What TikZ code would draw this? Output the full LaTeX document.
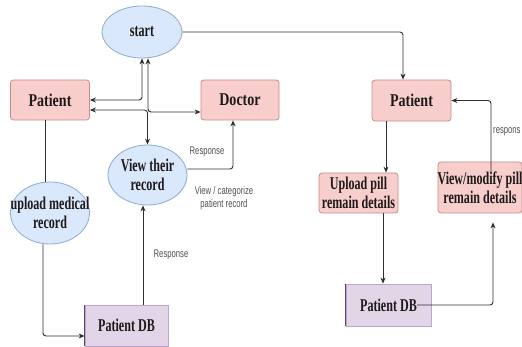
\documentclass[tikz,border=0pt]{standalone}
\usepackage{fontspec}
\setmainfont{Liberation Serif}
\newfontfamily\bxn{Liberation Serif}[FakeStretch=0.67]
\newfontfamily\bxw{Liberation Serif}[FakeStretch=0.78]
\newfontfamily\smf{Liberation Sans}[FakeStretch=0.70]
\usetikzlibrary{shapes.geometric,arrows.meta}
\definecolor{pinkF}{HTML}{F8CECC}
\definecolor{pinkD}{HTML}{C98B86}
\definecolor{blueF}{HTML}{DAE8FC}
\definecolor{blueD}{HTML}{8EA9D2}
\definecolor{purF}{HTML}{E1D5E7}
\definecolor{purD}{HTML}{B9A6C9}
\definecolor{purL}{HTML}{5C4A6E}
\definecolor{lineC}{HTML}{2E2E2E}
\definecolor{txtC}{HTML}{1E1A1A}
\definecolor{lblC}{HTML}{505050}
\tikzset{
  pbox/.style={draw=pinkD, fill=pinkF, rounded corners=3pt, line width=0.8pt, inner sep=0pt},
  ell/.style={ellipse, draw=blueD, fill=blueF, line width=0.8pt, inner sep=0pt},
  dbox/.style={draw=purD, fill=purF, line width=0.8pt, inner sep=0pt},
  ttw/.style={font=\bxw\bfseries\fontsize{18}{19}\selectfont, text=txtC, align=center, inner sep=0pt},
  ttn/.style={font=\bxn\bfseries\fontsize{18}{19}\selectfont, text=txtC, align=center, inner sep=0pt},
  lbl/.style={font=\smf\fontsize{11}{13}\selectfont, text=lblC, align=center, inner sep=0pt},
  conn/.style={draw=lineC, line width=0.9pt, rounded corners=3pt},
  arr/.style={conn, -{Stealth[length=6pt,width=5pt]}},
  darr/.style={conn, {Stealth[length=6pt,width=5pt]}-{Stealth[length=6pt,width=5pt]}}
}
\begin{document}
\begin{tikzpicture}[x=1pt,y=-1pt]
\useasboundingbox (0,0) rectangle (522,347);
\fill[white] (0,0) rectangle (522,347);
% left side nodes
\node[ell, minimum width=80pt, minimum height=52pt] (start) at (142,32) {};
\node[ttn] (startT) at (start) {start};
\node[pbox, minimum width=79pt, minimum height=40pt] (P1) at (50,100) {};
\node[ttw] (P1T) at (P1) {Patient};
\node[pbox, minimum width=78pt, minimum height=40pt] (Doc) at (240,100) {};
\node[ttw] (DocT) at (Doc) {Doctor};
\node[ell, minimum width=79pt, minimum height=60pt] (view) at (147.5,175) {};
\node[ttn] (viewT) at (view) {View their\\record};
\node[ell, minimum width=79pt, minimum height=62pt] (upl) at (50,213) {};
\node[ttn] (uplT) at (upl) {upload medical\\record};
\node[dbox, minimum width=83pt, minimum height=41pt] (DB1) at (126.5,325.5) {};
\node[ttn] (DB1T) at (DB1) {Patient DB};
\draw[purL, line width=1.6pt] (DB1.north west) -- (DB1.south west);
% right side nodes
\node[pbox, minimum width=79pt, minimum height=41pt] (P2) at (411.5,100.5) {};
\node[ttw] (P2T) at (P2) {Patient};
\node[pbox, minimum width=79pt, minimum height=40pt] (UP) at (358.5,193) {};
\node[ttn] (UPT) at (UP) {Upload pill\\remain details};
\node[pbox, minimum width=84pt, minimum height=51pt] (VM) at (480,187.5) {};
\node[ttn] (VMT) at (VM) {View/modify pill\\remain details};
\node[dbox, minimum width=85pt, minimum height=42pt] (DB2) at (388.5,305) {};
\node[ttn] (DB2T) at (DB2) {Patient DB};
\draw[purL, line width=1.6pt] (DB2.north west) -- (DB2.south west);
% helper x positions
\coordinate (xA) at (386,0);
\coordinate (xB) at (383,0);
\coordinate (xE) at (45,0);
\coordinate (xF) at (43,0);
\coordinate (xG) at (143,0);
% connectors left
\draw[darr] (start.south) |- (P1.east);
\draw[darr] ([yshift=-10pt]P1.east) -| (view.north);
\draw[darr] ([xshift=6pt]start.south) |- ([yshift=-12pt]Doc.west);
\draw[conn] (P1.south -| xE) -- (upl.north -| xE);
\draw[arr] (upl.south -| xF) |- ([yshift=-10.5pt]DB1.west);
\draw[arr] (DB1.north -| xG) -- (view.south -| xG);
\draw[arr] ([yshift=6pt]view.east) -| ([xshift=-7pt]Doc.south);
% connectors right
\draw[arr] (start.east) -| ([xshift=-8.5pt]P2.north);
\draw[arr] (P2.south -| xA) -- (UP.north -| xA);
\draw[arr] (UP.south -| xB) -- (DB2.north -| xB);
\draw[arr, shorten >=9pt] (DB2T.east) -| ([xshift=13pt]VM.south);
\draw[arr] ([xshift=11pt,yshift=-10pt]VM.north) |- (P2.east);
% labels
\node[lbl] (l1) at (207,152) {Response};
\node[lbl] (l2) at (224,198) {View / categorize\\patient record};
\node[lbl] (l3) at (171,255) {Response};
\node[lbl, anchor=west] (l4) at (493,132) {respons};
\end{tikzpicture}
\end{document}
